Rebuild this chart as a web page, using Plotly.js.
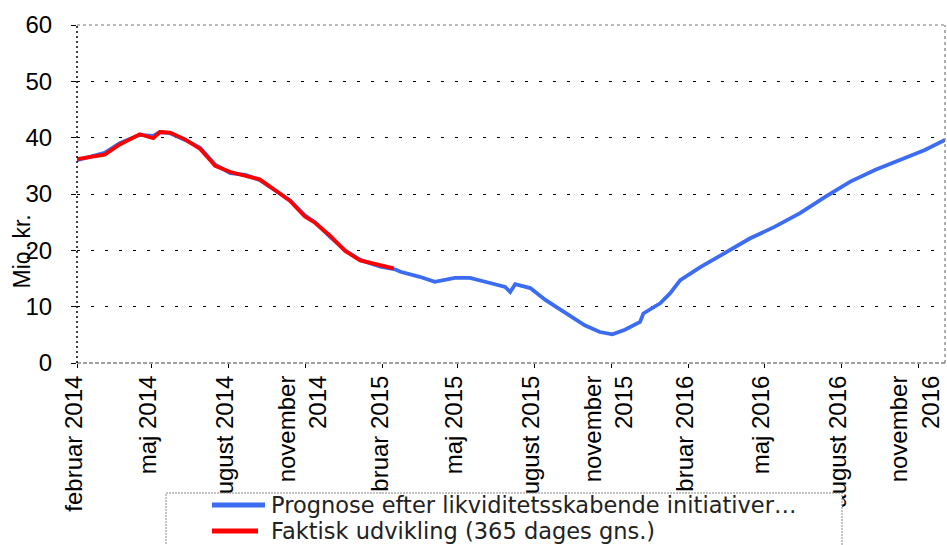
<!DOCTYPE html>
<html>
<head>
<meta charset="utf-8">
<script src="https://cdn.plot.ly/plotly-3.0.1.min.js"></script>
<style>html,body{margin:0;padding:0;background:#fff;}#chart{width:947px;height:545px;}</style>
</head>
<body>
<div id="chart"></div>
<script>
// Prognosis series (blue)
const prognoseDates = ['2014-02-01','2014-03-06','2014-03-24','2014-04-17','2014-05-03','2014-05-11','2014-05-23','2014-06-10','2014-06-28','2014-07-16','2014-08-03','2014-08-21','2014-09-07','2014-10-01','2014-10-13','2014-10-31','2014-11-12','2014-11-30','2014-12-18','2015-01-05','2015-01-29','2015-02-16','2015-02-22','2015-03-17','2015-04-04','2015-04-28','2015-05-16','2015-06-09','2015-06-27','2015-07-03','2015-07-09','2015-07-27','2015-08-14','2015-09-07','2015-09-30','2015-10-18','2015-11-02','2015-11-17','2015-12-05','2015-12-09','2015-12-29','2016-01-10','2016-01-22','2016-02-15','2016-03-16','2016-04-14','2016-05-14','2016-06-13','2016-07-13','2016-08-12','2016-09-11','2016-10-10','2016-11-09','2016-12-03'];
const prognoseValues = [36.0,37.3,39.0,40.5,40.3,41.0,40.8,39.6,38.2,35.2,33.7,33.4,32.5,30.2,28.9,26.2,25.0,22.4,20.0,18.3,17.1,16.6,16.2,15.3,14.4,15.1,15.1,14.2,13.5,12.6,14.0,13.3,11.2,8.9,6.7,5.5,5.1,5.9,7.3,8.8,10.6,12.4,14.7,17.0,19.5,22.1,24.2,26.6,29.5,32.2,34.3,36.0,37.8,39.6];
// Actual development (red, 365-day average)
const faktiskDates = ['2014-02-01','2014-03-06','2014-03-24','2014-04-17','2014-05-03','2014-05-11','2014-05-23','2014-06-10','2014-06-28','2014-07-16','2014-08-03','2014-08-21','2014-09-07','2014-10-01','2014-10-13','2014-10-31','2014-11-12','2014-11-30','2014-12-18','2015-01-05','2015-01-29','2015-02-14'];
const faktiskValues = [36.2,37.0,38.8,40.6,39.9,41.0,40.9,39.7,38.0,35.0,33.9,33.2,32.6,30.1,28.8,26.0,24.9,22.6,19.9,18.2,17.3,16.8];
const tickDates = ['2014-02-01','2014-05-01','2014-08-01','2014-11-01','2015-02-01','2015-05-01','2015-08-01','2015-11-01','2016-02-01','2016-05-01','2016-08-01','2016-11-01'];
const tickLabels = ['februar 2014','maj 2014','august 2014','november<br>2014','februar 2015','maj 2015','august 2015','november<br>2015','februar 2016','maj 2016','august 2016','november<br>2016'];
const seriesNames = ['Prognose efter likviditetsskabende initiativer…','Faktisk udvikling (365 dages gns.)'];
const seriesColors = ['#3b6cf2','#ff0000'];

const traces = [
  {x: prognoseDates, y: prognoseValues, type:'scatter', mode:'lines', name: seriesNames[0],
   line:{color:seriesColors[0], width:3.8}},
  {x: faktiskDates, y: faktiskValues, type:'scatter', mode:'lines', name: seriesNames[1],
   line:{color:seriesColors[1], width:3.8}}
];

// Legend key (boxed key below the plot, partly cut by the page edge as in the original)
const px = v => (v - 77) / 868;   // pixel -> paper x
const py = v => (363 - v) / 338;  // pixel -> paper y
const legendRows = [505, 531];
const legendShapes = [
  {type:'rect', xref:'paper', yref:'paper', x0:px(166), x1:px(842), y0:py(493), y1:py(570),
   fillcolor:'#ffffff', line:{color:'#888', width:1, dash:'2px,1px'}, layer:'above'}
].concat(seriesColors.map((c,i) => ({
   type:'line', xref:'paper', yref:'paper', x0:px(212), x1:px(i===0?265:258),
   y0:py(legendRows[i]), y1:py(legendRows[i]), line:{color:c, width:5}, layer:'above'})));
const legendTexts = seriesNames.map((n,i) => ({
   text:n, xref:'paper', yref:'paper', x:px(269), y:py(legendRows[i]),
   xanchor:'left', yanchor:'middle', showarrow:false,
   font:{family:'DejaVu Sans, sans-serif', size:22.5, color:'#222'}}));

const layout = {
  width:947, height:545,
  margin:{l:77, r:2, t:25, b:182, autoexpand:false},
  paper_bgcolor:'#ffffff', plot_bgcolor:'#ffffff',
  showlegend:false,
  font:{family:'Liberation Sans, Arial, sans-serif', color:'#000'},
  xaxis:{
    type:'date', range:['2014-02-01','2016-12-03'],
    tickmode:'array', tickvals: tickDates, ticktext: tickLabels,
    tickangle:-90, ticks:'outside', ticklen:4, tickcolor:'#000',
    tickfont:{family:'Liberation Sans, Arial, sans-serif', size:24, color:'#000'},
    ticklabelstandoff:-2, ticklabelshift:-3, ticklabeloverflow:'allow', automargin:false,
    showgrid:false, zeroline:false, showline:false
  },
  yaxis:{
    range:[0,60], dtick:10, tick0:0,
    ticks:'outside', ticklen:5, tickcolor:'#000',
    tickfont:{family:'Liberation Sans, Arial, sans-serif', size:24, color:'#000'},
    ticklabelstandoff:14, automargin:false,
    showgrid:true, gridcolor:'#000', gridwidth:1, griddash:'3px,11px',
    zeroline:false, showline:false
  },
  annotations:[
    {text:'Mio. kr.', xref:'paper', yref:'paper', x:-0.0634, y:0.33,
     xanchor:'center', yanchor:'middle', textangle:-90, showarrow:false,
     font:{family:'Liberation Sans, Arial, sans-serif', size:23, color:'#000'}}
  ].concat(legendTexts),
  shapes:[
    {type:'line', xref:'paper', yref:'paper', x0:0, x1:1, y0:1, y1:1, line:{color:'#777', width:1.2, dash:'3px,3px'}},
    {type:'line', xref:'paper', yref:'paper', x0:0, x1:1, y0:0, y1:0, line:{color:'#444', width:1.2, dash:'4px,2px'}},
    {type:'line', xref:'paper', yref:'paper', x0:1, x1:1, y0:0, y1:1, line:{color:'#777', width:1.2, dash:'3px,3px'}},
    {type:'line', xref:'paper', yref:'paper', x0:0, x1:0, y0:0, y1:1, line:{color:'#000', width:1.5, dash:'2px,3px'}}
  ].concat(legendShapes)
};

Plotly.newPlot('chart', traces, layout, {displayModeBar:false, staticPlot:true});
</script>
</body>
</html>
